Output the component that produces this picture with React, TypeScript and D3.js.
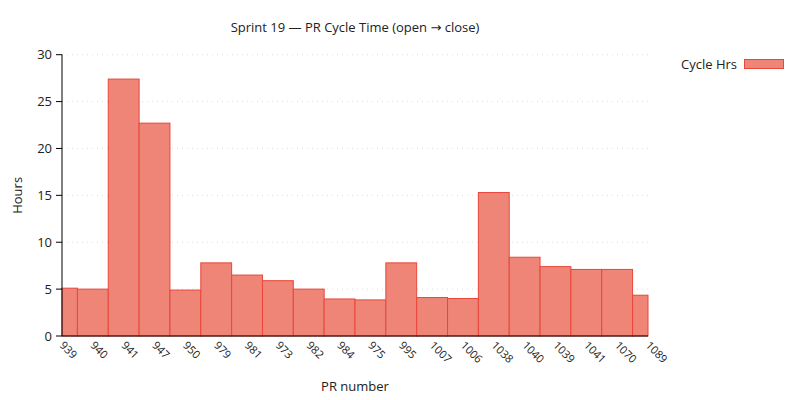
import * as d3 from "d3";

const prNumbers = [
  "939", "940", "941", "947", "950", "979", "981", "973", "982", "984",
  "975", "995", "1007", "1006", "1038", "1040", "1039", "1041", "1070", "1089",
];
const cycleHrs = [
  5.1, 5.0, 27.4, 22.7, 4.9, 7.8, 6.5, 5.9, 5.0, 3.95,
  3.85, 7.8, 4.1, 4.0, 15.3, 8.4, 7.4, 7.1, 7.1, 4.35,
];
const yTicks = [0, 5, 10, 15, 20, 25, 30];

const W = 800;
const H = 400;
const left = 62;
const right = 648;
const top = 54.7;
const bottom = 336;
const FONT = "'Open Sans', 'DejaVu Sans', sans-serif";

export default function App() {
  const x = d3.scalePoint<string>().domain(prNumbers).range([left, right]);
  const step = x.step();
  const y = d3.scaleLinear().domain([0, 30]).range([bottom, top]);

  return (
    <svg width={W} height={H} style={{ position: "absolute", left: 0, top: 0 }} fontFamily={FONT}>
      <rect width={W} height={H} fill="#fff" />
      <text x={355} y={32} textAnchor="middle" fontSize={13} fill="#222">
        Sprint 19 — PR Cycle Time (open → close)
      </text>

      {/* grid */}
      {yTicks.filter((t) => t > 0).map((t) => (
        <line key={t} x1={left} x2={right} y1={y(t)} y2={y(t)}
          stroke="#ddd" strokeDasharray="1 4" />
      ))}

      {/* bars, clipped at the axis edges */}
      {prNumbers.map((p, i) => {
        const cx = x(p)!;
        const x0 = Math.max(left, cx - step / 2);
        const x1 = Math.min(right, cx + step / 2);
        return (
          <rect key={p} x={x0} y={y(cycleHrs[i])} width={x1 - x0}
            height={bottom - y(cycleHrs[i])}
            fill="#ef8577" stroke="#e8473a" strokeWidth={1} />
        );
      })}

      {/* axes */}
      <line x1={left} x2={left} y1={top} y2={bottom} stroke="#000" />
      <line x1={left} x2={right} y1={bottom} y2={bottom} stroke="#000" />
      {yTicks.map((t) => (
        <g key={t}>
          <line x1={left - 6} x2={left} y1={y(t)} y2={y(t)} stroke="#000" />
          <text x={left - 10} y={y(t)} dy="0.35em" textAnchor="end" fontSize={13} fill="#222">
            {t}
          </text>
        </g>
      ))}
      {prNumbers.map((p) => (
        <text key={p} transform={`translate(${x(p)! - 3},${bottom + 10}) rotate(45)`}
          fontSize={11} fill="#222">
          {p}
        </text>
      ))}

      <text x={355} y={391} textAnchor="middle" fontSize={13} fill="#222">PR number</text>
      <text transform={`translate(22,${(top + bottom) / 2}) rotate(-90)`} textAnchor="middle"
        fontSize={13} fill="#222">Hours</text>

      {/* legend */}
      <text x={737} y={64} dy="0.35em" textAnchor="end" fontSize={13} fill="#222">Cycle Hrs</text>
      <rect x={744.5} y={59.5} width={39} height={9} fill="#ef8577" stroke="#e8473a" />
    </svg>
  );
}
